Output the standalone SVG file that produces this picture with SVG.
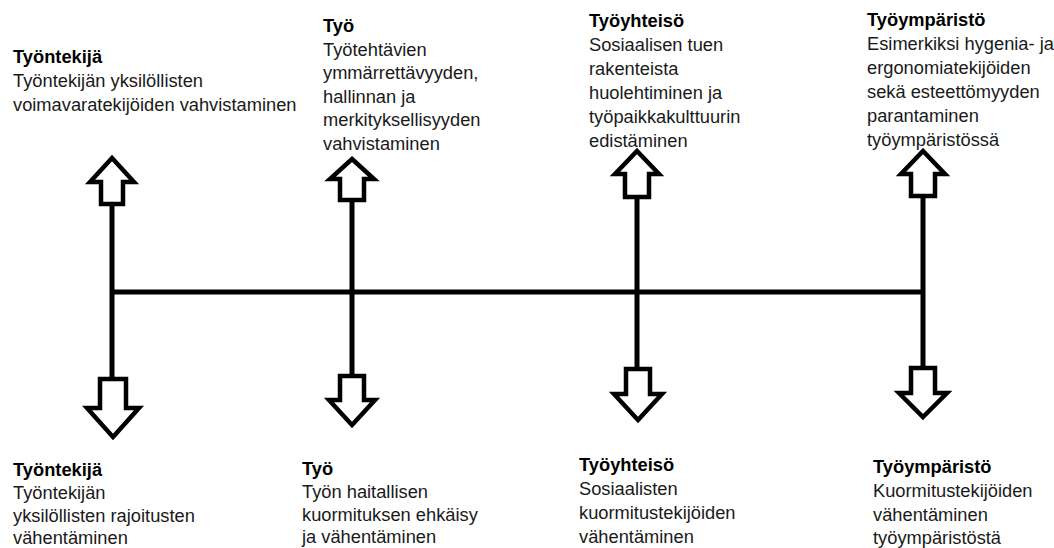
<svg xmlns="http://www.w3.org/2000/svg" width="1054" height="548" viewBox="0 0 1054 548">
<style>
text{font-family:"Liberation Sans",Arial,sans-serif;font-size:18.3px;fill:#1a1a1a}
.t{font-weight:bold;fill:#000}
.ln{stroke:#000;stroke-width:5;fill:none}
.ar{stroke:#000;stroke-width:4.5;fill:#fff;stroke-linejoin:miter}
</style>
<rect width="1054" height="548" fill="#fff"/>
<g id="connectors">
<line class="ln" x1="110" y1="292" x2="925" y2="292"/>
<line class="ln" x1="112" y1="198" x2="112" y2="384"/>
<line class="ln" x1="352" y1="196" x2="352" y2="381"/>
<line class="ln" x1="637" y1="193" x2="637" y2="374"/>
<line class="ln" x1="923" y1="193" x2="923" y2="373"/>
<polygon class="ar" points="112,158 134,182 123,182 123,204 101,204 101,182 90,182"/>
<polygon class="ar" points="352,159 374,179 364,179 364,200 340,200 340,179 330,179"/>
<polygon class="ar" points="637,151 659,174 649,174 649,197 625,197 625,174 615,174"/>
<polygon class="ar" points="923,151 945,174 935,174 935,196 911,196 911,174 901,174"/>
<polygon class="ar" points="113,437 139,408 126,408 126,379 100,379 100,408 87,408"/>
<polygon class="ar" points="352,425 375,400 364,400 364,376 340,376 340,400 329,400"/>
<polygon class="ar" points="638,420 662,394 650,394 650,369 626,369 626,394 614,394"/>
<polygon class="ar" points="923,417 947,393 935,393 935,368 911,368 911,393 899,393"/>
</g>
<g id="top-tyontekija">
<text x="13" y="63" class="t">Työntekijä</text>
<text x="13" y="87">Työntekijän yksilöllisten</text>
<text x="13" y="111">voimavaratekijöiden vahvistaminen</text>
</g>
<g id="top-tyo">
<text x="323" y="32" class="t">Työ</text>
<text x="323" y="55.5">Työtehtävien</text>
<text x="323" y="79">ymmärrettävyyden,</text>
<text x="323" y="102.5">hallinnan ja</text>
<text x="323" y="126">merkityksellisyyden</text>
<text x="323" y="149.5">vahvistaminen</text>
</g>
<g id="top-tyoyhteiso">
<text x="589" y="27" class="t">Työyhteisö</text>
<text x="589" y="51">Sosiaalisen tuen</text>
<text x="589" y="75">rakenteista</text>
<text x="589" y="99">huolehtiminen ja</text>
<text x="589" y="123">työpaikkakulttuurin</text>
<text x="589" y="147">edistäminen</text>
</g>
<g id="top-tyoymparisto">
<text x="867" y="26" class="t">Työympäristö</text>
<text x="867" y="50">Esimerkiksi hygenia- ja</text>
<text x="867" y="74">ergonomiatekijöiden</text>
<text x="867" y="98">sekä esteettömyyden</text>
<text x="867" y="122">parantaminen</text>
<text x="867" y="146">työympäristössä</text>
</g>
<g id="bottom-tyontekija">
<text x="13" y="476" class="t">Työntekijä</text>
<text x="13" y="499">Työntekijän</text>
<text x="13" y="522">yksilöllisten rajoitusten</text>
<text x="13" y="544">vähentäminen</text>
</g>
<g id="bottom-tyo">
<text x="302" y="475" class="t">Työ</text>
<text x="302" y="498">Työn haitallisen</text>
<text x="302" y="521">kuormituksen ehkäisy</text>
<text x="302" y="543">ja vähentäminen</text>
</g>
<g id="bottom-tyoyhteiso">
<text x="579" y="471" class="t">Työyhteisö</text>
<text x="579" y="495">Sosiaalisten</text>
<text x="579" y="519">kuormitustekijöiden</text>
<text x="579" y="543">vähentäminen</text>
</g>
<g id="bottom-tyoymparisto">
<text x="873" y="473" class="t">Työympäristö</text>
<text x="873" y="497">Kuormitustekijöiden</text>
<text x="873" y="521">vähentäminen</text>
<text x="873" y="544">työympäristöstä</text>
</g>
</svg>
